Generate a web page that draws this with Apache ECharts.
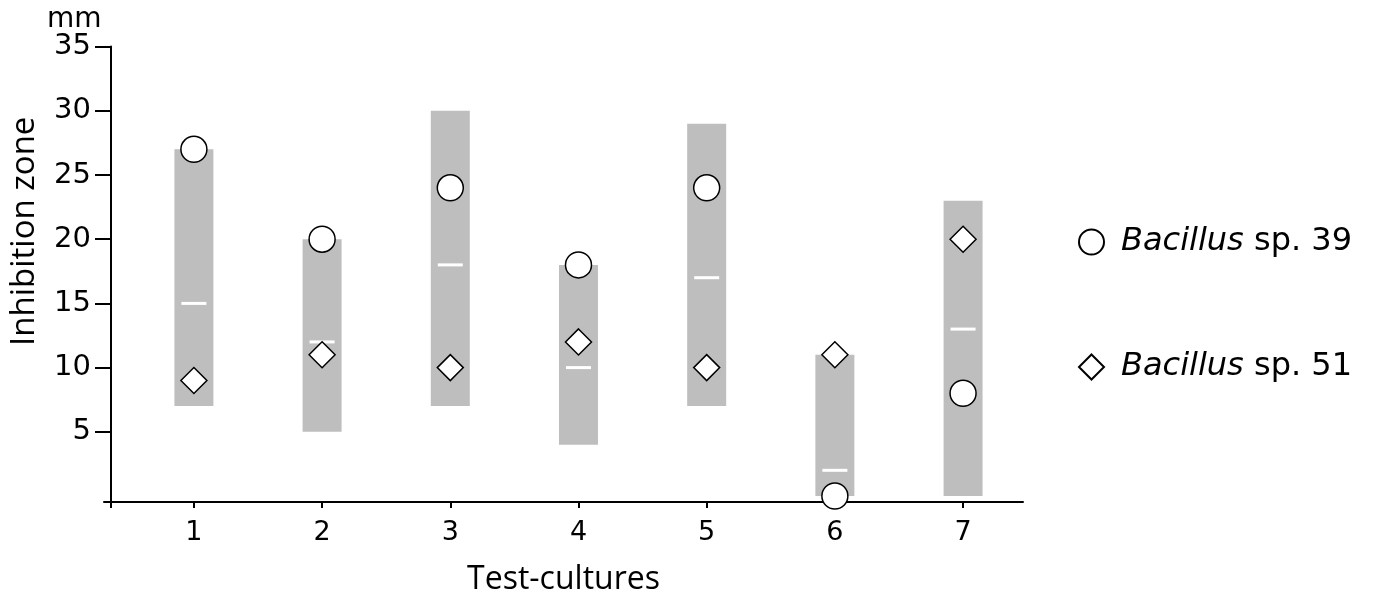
<!DOCTYPE html>
<html>
<head>
<meta charset="utf-8">
<script src="https://cdn.jsdelivr.net/npm/echarts@6/dist/echarts.min.js"></script>
<style>
  html, body { margin: 0; padding: 0; background: #fff; }
  #chart { width: 1379px; height: 605px; }
</style>
</head>
<body>
<div id="chart"></div>
<script>
// test cultures on x, inhibition zone (mm) on y
const cultures = [1, 2, 3, 4, 5, 6, 7];
const rangeLow = [7, 5, 7, 4, 7, 0, 0];
const rangeHigh = [27, 20, 30, 18, 29, 11, 23];
const rangeMedian = [15, 12, 18, 10, 17, 2, 13];
const sp39 = [27, 20, 24, 18, 24, 0, 8];
const sp51 = [9, 11, 10, 12, 10, 11, 20];
const yTicks = [5, 10, 15, 20, 25, 30, 35];

const sans = "DejaVu Sans";
const humanist = "Open Sans";

// gray range bar with a white median dash
function renderRange(params, api) {
  const x = api.value(0);
  const pLo = api.coord([x, api.value(1)]);
  const pHi = api.coord([x, api.value(2)]);
  const pMed = api.coord([x, api.value(3)]);
  return {
    type: "group",
    children: [
      {
        type: "rect",
        shape: { x: pLo[0] - 19.5, y: pHi[1], width: 39, height: pLo[1] - pHi[1] },
        style: { fill: "#bebebe" }
      },
      {
        type: "rect",
        shape: { x: pMed[0] - 12.5, y: pMed[1] - 1.5, width: 25, height: 3 },
        style: { fill: "#ffffff" }
      }
    ]
  };
}

const chart = echarts.init(document.getElementById("chart"));
chart.setOption({
  animation: false,
  backgroundColor: "#fff",
  title: {
    text: "mm",
    left: 42,
    top: 1,
    textStyle: { fontFamily: sans, fontSize: 28, fontWeight: "normal", color: "#000" }
  },
  legend: {
    orient: "vertical",
    left: 1078,
    top: 226,
    padding: 0,
    itemWidth: 25,
    itemHeight: 25,
    itemGap: 93,
    data: ["Bacillus sp. 39", "Bacillus sp. 51"],
    formatter: function (name) {
      return "{i|Bacillus}" + name.replace("Bacillus", "");
    },
    textStyle: {
      fontFamily: sans,
      fontSize: 32,
      lineHeight: 30,
      color: "#000",
      padding: [0, 0, 0, 12],
      rich: {
        i: { fontFamily: sans, fontSize: 32, lineHeight: 30, fontStyle: "italic", color: "#000" }
      }
    }
  },
  grid: {
    left: 103,
    right: 356,
    top: 46.6,
    bottom: 103
  },
  xAxis: {
    type: "value",
    min: 0.2987,
    max: 7.4675,
    name: "Test-cultures",
    nameLocation: "middle",
    nameGap: 62,
    nameTextStyle: { fontFamily: humanist, fontSize: 32, color: "#000" },
    splitLine: { show: false },
    axisLine: { show: true, onZero: false, lineStyle: { color: "#000", width: 2 } },
    axisTick: {
      show: true,
      length: 6,
      customValues: [0.3532].concat(cultures),
      lineStyle: { color: "#000", width: 2 }
    },
    axisLabel: {
      customValues: cultures,
      margin: 17,
      fontFamily: sans,
      fontSize: 27,
      color: "#000"
    }
  },
  yAxis: {
    type: "value",
    min: -0.467,
    max: 35,
    offset: -7,
    name: "Inhibition zone",
    nameLocation: "middle",
    nameGap: 70,
    nameRotate: 90,
    nameTextStyle: { fontFamily: humanist, fontSize: 33, color: "#000", padding: [0, 0, 0, 86] },
    splitLine: { show: false },
    axisLine: { show: true, onZero: false, lineStyle: { color: "#000", width: 2 } },
    axisTick: {
      show: true,
      length: 16,
      customValues: yTicks,
      lineStyle: { color: "#000", width: 2 }
    },
    axisLabel: {
      customValues: yTicks,
      margin: 20,
      fontFamily: sans,
      fontSize: 29,
      color: "#000"
    }
  },
  series: [
    {
      name: "range",
      type: "custom",
      renderItem: renderRange,
      encode: { x: 0, y: [1, 2, 3] },
      data: cultures.map((c, i) => [c, rangeLow[i], rangeHigh[i], rangeMedian[i]]),
      z: 1
    },
    {
      name: "Bacillus sp. 51",
      type: "scatter",
      symbol: "diamond",
      symbolSize: 26,
      itemStyle: { color: "#fff", borderColor: "#000", borderWidth: 1.5, opacity: 1 },
      data: cultures.map((c, i) => [c, sp51[i]]),
      z: 3
    },
    {
      name: "Bacillus sp. 39",
      type: "scatter",
      symbol: "circle",
      symbolSize: 26,
      clip: false,
      itemStyle: { color: "#fff", borderColor: "#000", borderWidth: 1.5, opacity: 1 },
      data: cultures.map((c, i) => [c, sp39[i]]),
      z: 3
    }
  ]
});
</script>
</body>
</html>
